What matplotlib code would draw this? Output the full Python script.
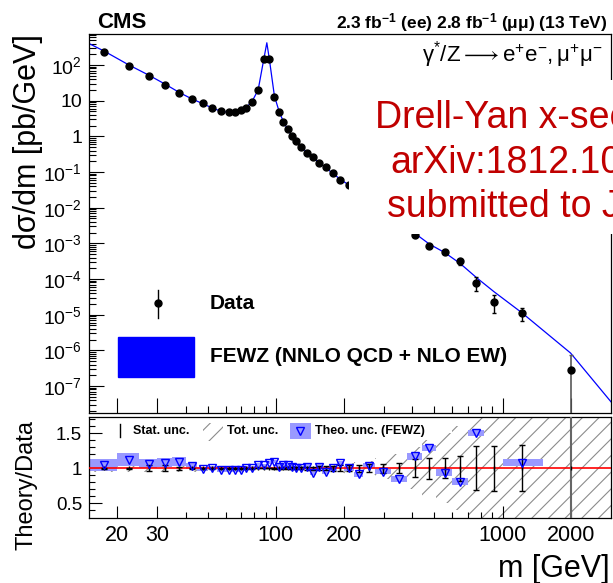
import numpy as np
import matplotlib
matplotlib.use("Agg")
import matplotlib.pyplot as plt
from matplotlib.patches import Rectangle
from matplotlib.lines import Line2D
from matplotlib.ticker import FixedLocator, NullFormatter, LogLocator

plt.rcParams['font.family'] = ['Liberation Sans', 'DejaVu Sans']
plt.rcParams['mathtext.fontset'] = 'custom'
plt.rcParams['mathtext.rm'] = 'Liberation Sans'
plt.rcParams['mathtext.it'] = 'Liberation Sans:italic'
plt.rcParams['mathtext.bf'] = 'Liberation Sans:bold'
plt.rcParams['hatch.linewidth'] = 0.8

# DATA
# mass bins [GeV]
bin_edges = [15, 20, 25, 30, 35, 40, 45, 50, 55, 60, 64, 68, 72, 76, 81, 86, 91, 96, 101, 106,
             110, 115, 120, 126, 133, 141, 150, 160, 171, 185, 200, 220, 243, 273, 320, 380,
             440, 510, 600, 700, 830, 1000, 1500, 3000]
mass = [17.5, 22.5, 27.5, 32.5, 37.5, 42.5, 47.5, 52.5, 57.5, 62, 66, 70, 74, 78.5, 83.5,
        88.5, 93.5, 98.5, 103.5, 108, 112.5, 117.5, 123, 129.5, 137, 145.5, 155, 165.5, 178,
        192.5, 210, 231.5, 258, 296.5, 350, 410, 475, 555, 650, 765, 915, 1210, 1990]

# measured dsigma/dm [pb/GeV] and relative uncertainty
xsec = [236, 95.6, 50.1, 27.5, 16.4, 11.1, 8.4, 6.2, 5.1, 4.8, 4.9, 5.4, 6.4, 9.4, 19.9,
        144, 147, 12.9, 4.7, 2.48, 1.57, 1.02, 0.74, 0.51, 0.348, 0.268, 0.182, 0.135, 0.092,
        0.060, 0.043, 0.025, 0.0145, 0.0072, 0.0033, 1.71e-3, 8.4e-4, 5.7e-4, 3.1e-4, 7.9e-5,
        2.3e-5, 1.09e-5, 2.9e-7]
xsec_err = [0.01, 0.01, 0.02, 0.02, 0.02, 0.02, 0.02, 0.02, 0.02, 0.02, 0.02, 0.02, 0.02,
            0.02, 0.02, 0.02, 0.02, 0.02, 0.02, 0.02, 0.02, 0.02, 0.03, 0.03, 0.03, 0.03, 0.04,
            0.04, 0.05, 0.05, 0.06, 0.06, 0.07, 0.08, 0.08, 0.12, 0.14, 0.14, 0.18, 0.4, 0.5,
            0.38, 1.5]

# FEWZ prediction curve
theory_mass = [15, 17.5, 22.5, 27.5, 32.5, 37.5, 42.5, 47.5, 52.5, 57.5, 62, 66, 70, 74, 78.5,
               83.5, 88.5, 91.2, 93.5, 98.5, 103.5, 108, 112.5, 117.5, 123, 129.5, 137, 145.5,
               155, 165.5, 178, 192.5, 210, 231.5, 258, 296.5, 350, 410, 475, 555, 650, 765,
               915, 1210, 1990, 3000]
theory_xsec = [400, 245, 100, 52, 29, 17, 11.3, 8.3, 6.2, 5.0, 4.7, 4.8, 5.3, 6.4, 9.5,
               20, 150, 420, 150, 13.5, 4.8, 2.55, 1.6, 1.03, 0.74, 0.52, 0.35, 0.26,
               0.185, 0.133, 0.092, 0.062, 0.043, 0.025, 0.0145, 0.0072, 0.0033, 1.9e-3,
               9.5e-4, 5.5e-4, 2.7e-4, 1.1e-4, 4.4e-5, 1.15e-5, 8.4e-7, 3.6e-8]

# ratio panel
ratio = [1.048, 1.12, 1.062, 1.081, 1.095, 1.033, 0.985, 1.0, 0.976, 0.976, 0.976, 0.976, 1.0,
         1.01, 1.05, 1.04, 1.08, 1.095, 1.024, 1.048, 1.048, 1.02, 1.0, 1.0, 1.024, 0.93,
         1.024, 0.952, 1.0, 1.071, 1.0, 0.914, 1.033, 0.952, 0.843, 1.167, 1.286, 0.938,
         0.81, 1.5, 1.9, 1.081, 2.9]
theo_unc = [0.09, 0.095, 0.065, 0.065, 0.06, 0.04, 0.03, 0.025, 0.025, 0.025, 0.025, 0.025,
            0.025, 0.025, 0.025, 0.025, 0.025, 0.025, 0.03, 0.03, 0.03, 0.03, 0.03, 0.03, 0.03,
            0.03, 0.03, 0.035, 0.035, 0.035, 0.035, 0.035, 0.035, 0.04, 0.04, 0.045, 0.045,
            0.045, 0.045, 0.045, 0.05, 0.05, 0.06]
stat_unc = [0.006, 0.006, 0.04, 0.04, 0.02, 0.01, 0.008, 0.008, 0.008, 0.008, 0.008, 0.008,
            0.006, 0.005, 0.004, 0.003, 0.003, 0.005, 0.008, 0.01, 0.012, 0.015, 0.015, 0.018,
            0.02, 0.02, 0.025, 0.03, 0.035, 0.04, 0.045, 0.05, 0.055, 0.065, 0.07, 0.13, 0.15,
            0.14, 0.18, 0.31, 0.32, 0.33, 1.5]
tot_unc = [0.06, 0.06, 0.06, 0.06, 0.05, 0.05, 0.04, 0.04, 0.035, 0.035, 0.035, 0.035, 0.03,
           0.03, 0.03, 0.03, 0.03, 0.03, 0.03, 0.035, 0.035, 0.04, 0.04, 0.045, 0.05, 0.05,
           0.055, 0.06, 0.065, 0.07, 0.08, 0.09, 0.1, 0.15, 0.2, 0.3, 0.4, 0.5, 0.6, 1.0, 1.0,
           1.0, 1.0]

# ticks
xticks = [20, 30, 100, 200, 1000, 2000]
xtick_labels = ['20', '30', '100', '200', '1000', '2000']
xminor = [40, 50, 60, 70, 80, 90, 300, 400, 500, 600, 700, 800, 900]
yticks = [1e-7, 1e-6, 1e-5, 1e-4, 1e-3, 1e-2, 1e-1, 1, 10, 100]
ytick_labels = [r'$10^{-7}$', r'$10^{-6}$', r'$10^{-5}$', r'$10^{-4}$', r'$10^{-3}$',
                r'$10^{-2}$', r'$10^{-1}$', '1', '10', r'$10^{2}$']
rticks = [0.5, 1, 1.5]
rtick_labels = ['0.5', '1', '1.5']
rminor = [0.4, 0.6, 0.7, 0.8, 0.9, 1.1, 1.2, 1.3, 1.4, 1.6, 1.7]

W, H = 613, 583
fig = plt.figure(figsize=(W / 100, H / 100), dpi=100)
ax1 = fig.add_axes([89 / W, 1 - 413 / H, 522 / W, 379 / H])
ax2 = fig.add_axes([89 / W, 1 - 518 / H, 522 / W, 101 / H])

xsec = np.array(xsec)
err = xsec * np.array(xsec_err)

# UPPER PANEL
ax1.plot(theory_mass, theory_xsec, color='blue', lw=0.9, zorder=2)
ax1.errorbar(mass[:-1], xsec[:-1], yerr=err[:-1], fmt='o', color='black', ms=5,
             elinewidth=1, capsize=1.5, zorder=3)
ax1.errorbar(mass[-1:], xsec[-1:], yerr=err[-1:], fmt='o', color='black', ecolor='0.35',
             ms=5, elinewidth=1.2, capsize=1.5, zorder=3)
ax1.set_xscale('log')
ax1.set_yscale('log')
ax1.set_xlim(15, 3000)
ax1.set_ylim(1.75e-8, 740)

# RATIO PANEL
edges = np.array(bin_edges)
widths = np.diff(edges)
ratio = np.array(ratio)
theo_unc = np.array(theo_unc)
tot_unc = np.array(tot_unc)
ax2.bar(edges[:-1], 2 * tot_unc, width=widths, bottom=1 - tot_unc, align='edge',
        fill=False, hatch='//', edgecolor='0.55', linewidth=0, zorder=1)
ax2.bar(edges[:-1], 2 * theo_unc, width=widths, bottom=ratio - theo_unc, align='edge',
        color='#9999ff', linewidth=0, zorder=2)
ax2.axhline(1, color='red', lw=1.2, zorder=3)
ax2.errorbar(mass[:-1], np.ones(len(mass) - 1), yerr=stat_unc[:-1], fmt='none',
             ecolor='black', elinewidth=1, capsize=2, zorder=4)
ax2.errorbar(mass[-1:], [1], yerr=stat_unc[-1:], fmt='none', ecolor='0.4',
             elinewidth=1.5, capsize=0, zorder=4)
ax2.plot(mass, np.ones(len(mass)), ls='none', marker='|', color='black', ms=3, zorder=4)
ax2.plot(mass, ratio, ls='none', marker='v', ms=6, mfc='none', mec='blue', mew=1, zorder=5)
ax2.set_xscale('log')
ax2.set_xlim(15, 3000)
ax2.set_ylim(0.29, 1.73)

# ticks and axes
for ax in (ax1, ax2):
    ax.xaxis.set_major_locator(FixedLocator(xticks))
    ax.xaxis.set_minor_locator(FixedLocator(xminor))
    ax.xaxis.set_minor_formatter(NullFormatter())
    ax.tick_params(which='both', direction='in', top=False, right=False, width=0.8)
    for s in ax.spines.values():
        s.set_linewidth(0.9)

ax1.set_xticklabels([])
ax1.yaxis.set_major_locator(FixedLocator(yticks))
ax1.set_yticklabels(ytick_labels, fontsize=14)
ax1.yaxis.set_minor_locator(LogLocator(base=10, subs=range(2, 10), numticks=20))
ax1.yaxis.set_minor_formatter(NullFormatter())
ax1.tick_params(which='major', length=11, pad=5)
ax1.tick_params(which='minor', length=5)

ax2.set_xticklabels(xtick_labels, fontsize=15.5)
ax2.yaxis.set_major_locator(FixedLocator(rticks))
ax2.set_yticklabels(rtick_labels, fontsize=13.5)
ax2.yaxis.set_minor_locator(FixedLocator(rminor))
ax2.yaxis.set_minor_formatter(NullFormatter())
ax2.tick_params(which='major', length=9, pad=5)
ax2.tick_params(which='minor', length=4.5)

# axis titles
fig.text(28 / W, 1 - 34 / H, 'd\u03c3/dm [pb/GeV]', rotation=90, ha='center', va='top',
         fontsize=22)
fig.text(27 / W, 1 - 420 / H, 'Theory/Data', rotation=90, ha='center', va='top', fontsize=17)
fig.text(610 / W, 1 - 577 / H, 'm [GeV]', ha='right', va='baseline', fontsize=22)

# header
fig.text(97 / W, 1 - 28 / H, 'CMS', weight='bold', fontsize=16, va='baseline')
fig.text(608 / W, 1 - 28 / H, r'2.3 fb$^{\mathbf{-1}}$ (ee) 2.8 fb$^{\mathbf{-1}}$ (μμ) (13 TeV)',
         weight='bold', fontsize=12.5, ha='right', va='baseline')
ax1.text(0.985, 0.945,
         r'$\mathregular{\gamma^{*}/Z \longrightarrow e^{+}e^{-}, \mu^{+}\mu^{-}}$',
         transform=ax1.transAxes, ha='right', va='center', fontsize=16)

# upper legend
ax1.add_line(Line2D([0.132, 0.132], [0.251, 0.325], color='black', lw=1,
                    transform=ax1.transAxes))
ax1.add_line(Line2D([0.132], [0.29], marker='o', ms=5, color='black', transform=ax1.transAxes))
ax1.text(0.232, 0.29, 'Data', weight='bold', fontsize=15, va='center', transform=ax1.transAxes)
ax1.add_patch(Rectangle((0.0556, 0.095), 0.145, 0.105, color='blue', transform=ax1.transAxes))
ax1.text(0.232, 0.148, 'FEWZ (NNLO QCD + NLO EW)', weight='bold', fontsize=15, va='center',
         transform=ax1.transAxes)

# ratio legend
ax2.add_line(Line2D([0.059, 0.059], [0.80, 0.93], color='black', lw=1, transform=ax2.transAxes))
ax2.text(0.084, 0.86, 'Stat. unc.', weight='bold', fontsize=9, va='center',
         transform=ax2.transAxes)
ax2.add_patch(Rectangle((0.218, 0.76), 0.039, 0.18, fill=False, hatch='//', edgecolor='0.55',
                        linewidth=0, transform=ax2.transAxes))
ax2.text(0.264, 0.86, 'Tot. unc.', weight='bold', fontsize=9, va='center',
         transform=ax2.transAxes)
ax2.add_patch(Rectangle((0.385, 0.78), 0.04, 0.16, color='#9999ff', linewidth=0,
                        transform=ax2.transAxes))
ax2.add_line(Line2D([0.405], [0.86], marker='v', ms=6, mfc='none', mec='blue', mew=1,
                    transform=ax2.transAxes))
ax2.text(0.433, 0.86, 'Theo. unc. (FEWZ)', weight='bold', fontsize=9, va='center',
         transform=ax2.transAxes)

# white box with red stamp on top (the stamp runs off the right edge, as in the original)
fig.add_artist(Rectangle((349 / W, 1 - 234 / H), 264 / W, 154 / H, transform=fig.transFigure,
                         facecolor='white', edgecolor='none', zorder=10))
fig.text(375 / W, 1 - 128 / H, 'Drell-Yan x-section', color='#c00000', fontsize=27,
         va='baseline', zorder=11)
fig.text(390 / W, 1 - 173 / H, 'arXiv:1812.10529', color='#c00000', fontsize=27,
         va='baseline', zorder=11)
fig.text(387 / W, 1 - 217 / H, 'submitted to JHEP', color='#c00000', fontsize=27,
         va='baseline', zorder=11)

plt.savefig('out.png', dpi=100)
